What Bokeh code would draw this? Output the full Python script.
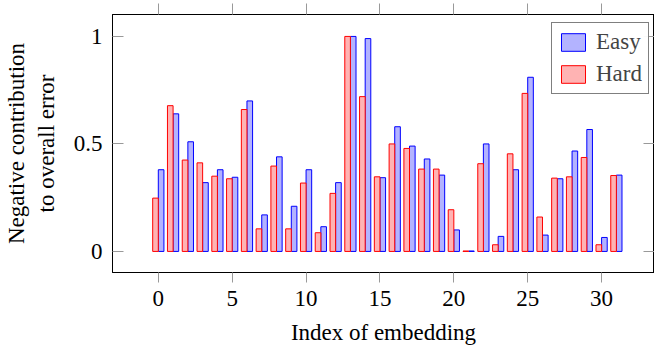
from bokeh.plotting import figure
from bokeh.models import ColumnDataSource, FixedTicker, LinearAxis, Range1d, Legend, LegendItem
from bokeh.transform import dodge
from bokeh.embed import file_html
from bokeh.resources import INLINE

index = list(range(32))
easy = [0.38, 0.64, 0.51, 0.32, 0.38, 0.345, 0.70, 0.17, 0.44, 0.21,
        0.38, 0.115, 0.32, 1.0, 0.99, 0.343, 0.58, 0.49, 0.43, 0.355,
        0.10, 0.002, 0.50, 0.07, 0.38, 0.81, 0.076, 0.338, 0.467, 0.567,
        0.065, 0.355]
hard = [0.248, 0.678, 0.425, 0.412, 0.35, 0.338, 0.66, 0.105, 0.397, 0.105,
        0.318, 0.087, 0.27, 1.0, 0.72, 0.347, 0.50, 0.479, 0.383, 0.383,
        0.194, 0.002, 0.408, 0.031, 0.454, 0.735, 0.16, 0.341, 0.347, 0.437,
        0.031, 0.353]
x_ticks = [0, 5, 10, 15, 20, 25, 30]
y_ticks = [0, 0.5, 1]
y_tick_labels = {0: "0", 0.5: "0.5", 1: "1"}

src = ColumnDataSource(dict(idx=index, easy=easy, hard=hard))

FONT = "Liberation Serif"
FS = "23px"

p = figure(width=654, height=349, output_backend="svg", toolbar_location=None,
           x_range=Range1d(-3.1, 33.58), y_range=Range1d(-0.098, 1.102),
           min_border_left=110, min_border_right=0, min_border_top=14, min_border_bottom=77,
           x_axis_location=None, y_axis_location=None)
p.xgrid.visible = False
p.ygrid.visible = False
p.outline_line_color = "black"
p.outline_line_width = 1
p.background_fill_color = "white"
p.border_fill_color = "white"

r_easy = p.vbar(x=dodge("idx", 0.19, range=p.x_range), top="easy", width=0.38, source=src,
                fill_color="#b3b3ff", line_color="blue", line_width=1)
r_hard = p.vbar(x=dodge("idx", -0.19, range=p.x_range), top="hard", width=0.38, source=src,
                fill_color="#ffb3b3", line_color="red", line_width=1)

def style(ax):
    ax.axis_line_color = "black"
    ax.major_tick_line_color = "#999999"
    ax.minor_tick_line_color = None
    ax.major_label_text_font = FONT
    ax.major_label_text_font_size = FS
    ax.major_label_text_color = "black"
    ax.axis_label_text_font = FONT
    ax.axis_label_text_font_size = FS
    ax.axis_label_text_font_style = "normal"
    ax.axis_label_text_color = "black"

xb = LinearAxis(ticker=FixedTicker(ticks=x_ticks), axis_label="Index of embedding")
style(xb)
xb.major_tick_out = 10
xb.major_tick_in = 0
xb.major_label_standoff = 8
xb.axis_label_standoff = 11
p.add_layout(xb, "below")

yl = LinearAxis(ticker=FixedTicker(ticks=y_ticks), axis_label="Negative contribution\nto overall error")
style(yl)
yl.major_tick_out = 0
yl.major_tick_in = 11
yl.major_label_standoff = 10
yl.axis_label_standoff = 12
yl.major_label_overrides = y_tick_labels
p.add_layout(yl, "left")

xt = LinearAxis(ticker=FixedTicker(ticks=x_ticks))
style(xt)
xt.major_tick_out = 11
xt.major_tick_in = 0
xt.major_label_overrides = {t: "" for t in x_ticks}
xt.major_label_standoff = 0
p.add_layout(xt, "above")

yr = LinearAxis(ticker=FixedTicker(ticks=y_ticks))
style(yr)
yr.major_tick_out = 0
yr.major_tick_in = 11
yr.major_label_overrides = {t: "" for t in y_ticks}
yr.major_label_standoff = 0
p.add_layout(yr, "right")

legend = Legend(items=[LegendItem(label="Easy", renderers=[r_easy]),
                       LegendItem(label="Hard", renderers=[r_hard])],
                location=(439, 178))
legend.label_text_font = FONT
legend.label_text_font_size = FS
legend.border_line_color = "black"
legend.border_line_width = 1
legend.glyph_width = 30
legend.glyph_height = 22
legend.padding = 6
legend.spacing = 6
legend.label_standoff = 8
legend.margin = 0
p.add_layout(legend, "center")

open("out.html", "w").write(file_html(p, INLINE))
